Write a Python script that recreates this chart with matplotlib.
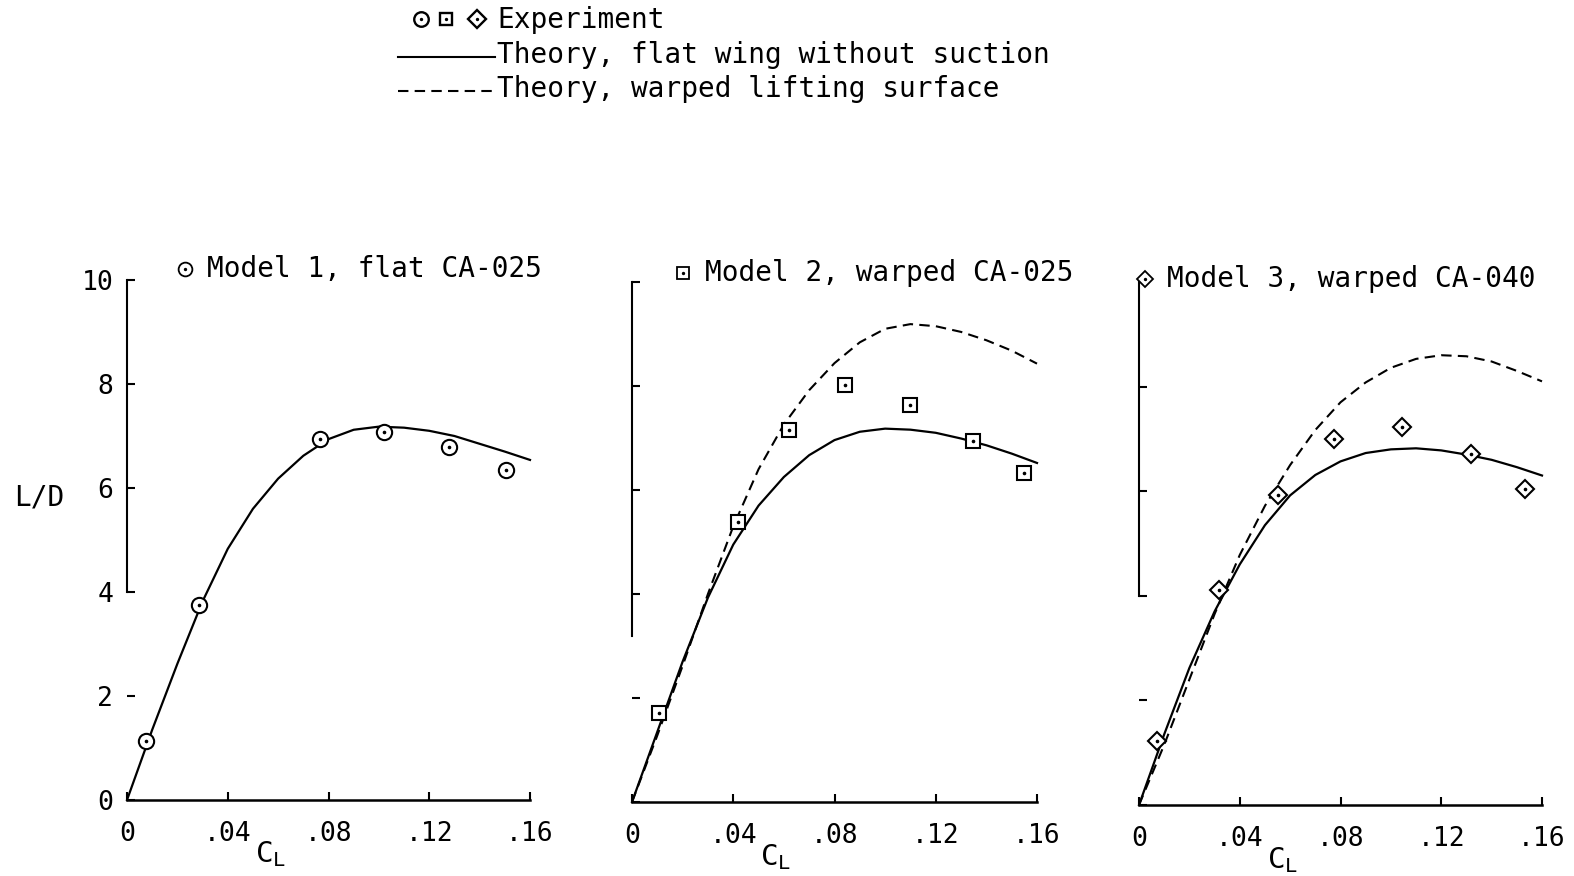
import numpy as np
import matplotlib
matplotlib.use("Agg")
import matplotlib.pyplot as plt
from matplotlib.lines import Line2D

# lift coefficient grid used for the theory curves
cl_theory = [0.0, 0.01, 0.02, 0.03, 0.04, 0.05, 0.06, 0.07, 0.08,
             0.09, 0.10, 0.11, 0.12, 0.13, 0.14, 0.15, 0.16]

# model 1, flat CA-025
m1_cl = [0.0075, 0.0285, 0.0768, 0.102, 0.128, 0.1505]
m1_ld = [1.14, 3.75, 6.95, 7.07, 6.78, 6.35]
m1_flat = [0.0, 1.35, 2.62, 3.82, 4.83, 5.6, 6.18, 6.62, 6.94,
           7.12, 7.18, 7.16, 7.1, 7.0, 6.85, 6.7, 6.54]

# model 2, warped CA-025
m2_cl = [0.0107, 0.0417, 0.0622, 0.084, 0.1097, 0.1347, 0.155]
m2_ld = [1.71, 5.39, 7.15, 8.02, 7.63, 6.94, 6.32]
m2_flat = [0.0, 1.35, 2.7, 3.93, 4.95, 5.7, 6.25, 6.67, 6.96,
           7.12, 7.18, 7.16, 7.1, 6.99, 6.86, 6.7, 6.52]
m2_warped = [0.0, 1.28, 2.62, 4.0, 5.3, 6.4, 7.26, 7.92, 8.44,
             8.84, 9.1, 9.19, 9.15, 9.04, 8.88, 8.68, 8.43]

# model 3, warped CA-040
m3_cl = [0.0072, 0.0318, 0.0553, 0.0776, 0.1043, 0.1317, 0.1532]
m3_ld = [1.22, 4.11, 5.93, 6.99, 7.22, 6.72, 6.05]
m3_flat = [0.0, 1.35, 2.62, 3.7, 4.6, 5.35, 5.92, 6.31, 6.57,
           6.73, 6.8, 6.82, 6.78, 6.7, 6.6, 6.46, 6.3]
m3_warped = [0.0, 1.15, 2.4, 3.65, 4.78, 5.72, 6.5, 7.17, 7.7,
             8.08, 8.36, 8.53, 8.6, 8.58, 8.48, 8.3, 8.1]

x_ticks = [0, 0.04, 0.08, 0.12, 0.16]
x_ticklabels = ["0", ".04", ".08", ".12", ".16"]
y_ticks = [0, 2, 4, 6, 8, 10]
titles = ["Model 1, flat CA-025", "Model 2, warped CA-025", "Model 3, warped CA-040"]

MONO = "DejaVu Sans Mono"
plt.rcParams["font.family"] = MONO

W, H = 1574, 876
fig = plt.figure(figsize=(W / 100, H / 100), dpi=100)


def px(x, y):
    return x / W, 1 - y / H


rects = [
    [127 / W, 1 - 800 / H, 403 / W, 520 / H],
    [632 / W, 1 - 802 / H, 405 / W, 520 / H],
    [1139 / W, 1 - 805 / H, 403 / W, 523 / H],
]

dash = (0, (5, 3))
mk_style = dict(mfc="white", mec="black", mew=1.5, ls="none", clip_on=False, zorder=4)
markers = [("o", 11), ("s", 9.5), ("D", 9.2)]

panels = [
    (m1_cl, m1_ld, m1_flat, None, 4.0),
    (m2_cl, m2_ld, m2_flat, m2_warped, 3.2),
    (m3_cl, m3_ld, m3_flat, m3_warped, 4.0),
]

axes = []
for i, (cl, ld, flat, warped, spine_lo) in enumerate(panels):
    ax = fig.add_axes(rects[i])
    axes.append(ax)
    ax.plot(cl_theory, flat, color="black", lw=1.6, clip_on=False)
    if warped is not None:
        ax.plot(cl_theory, warped, color="black", lw=1.5, ls=dash, clip_on=False)
    m, ms = markers[i]
    ax.plot(cl, ld, marker=m, ms=ms, **mk_style)
    ax.plot(cl, ld, marker="o", ms=1.6, color="black", ls="none", clip_on=False, zorder=5)

    ax.set_xlim(0, 0.16)
    ax.set_ylim(0, 10)
    for s in ("top", "right"):
        ax.spines[s].set_visible(False)
    ax.spines["left"].set_bounds(spine_lo, 10)
    ax.spines["left"].set_linewidth(1.5)
    ax.spines["bottom"].set_linewidth(1.8)
    ax.set_xticks(x_ticks)
    ax.set_xticklabels(x_ticklabels)
    ax.set_yticks(y_ticks)
    ax.tick_params(direction="in", length=6, width=1.5, labelsize=19)
    ax.tick_params(axis="x", pad=15)
    ax.tick_params(axis="y", pad=10)
    if i > 0:
        ax.set_yticklabels([])

    ax.text(0.355, -0.105, r"$\mathtt{C}_\mathtt{L}$", transform=ax.transAxes,
            ha="center", va="center", fontsize=21)

axes[0].set_yticklabels([str(v) for v in y_ticks])

# panel headings with their symbol keys
title_pos = [(185, 207, 269), (683, 705, 273), (1145, 1167, 279)]
for (mx, tx, ty), title, (m, ms) in zip(title_pos, titles, markers):
    fig.add_artist(Line2D([mx / W], [1 - ty / H], marker=m, ms=ms * 0.9,
                          mfc="white", mec="black", mew=1.3, ls="none",
                          transform=fig.transFigure))
    fig.add_artist(Line2D([mx / W], [1 - ty / H], marker="o", ms=1.4, color="black",
                          ls="none", transform=fig.transFigure))
    fig.text(*px(tx, ty), title, fontsize=20, ha="left", va="center")

fig.text(*px(39, 497), "L/D", fontsize=20, ha="center", va="center")

# key at the top
for (m, ms), mx in zip(markers, (421, 446, 477)):
    fig.add_artist(Line2D([mx / W], [1 - 19 / H], marker=m, ms=ms * 0.95,
                          mfc="white", mec="black", mew=1.7, ls="none",
                          transform=fig.transFigure))
    fig.add_artist(Line2D([mx / W], [1 - 19 / H], marker="o", ms=1.4, color="black",
                          ls="none", transform=fig.transFigure))
fig.add_artist(Line2D([398 / W, 495 / W], [1 - 57 / H] * 2, color="black", lw=1.5,
                      transform=fig.transFigure))
fig.add_artist(Line2D([398 / W, 495 / W], [1 - 91 / H] * 2, color="black", lw=1.5,
                      ls=dash, transform=fig.transFigure))
fig.text(*px(497, 20), "Experiment", fontsize=20, va="center")
fig.text(*px(497, 55), "Theory, flat wing without suction", fontsize=20, va="center")
fig.text(*px(497, 89), "Theory, warped lifting surface", fontsize=20, va="center")

fig.savefig("out.png", dpi=100)
